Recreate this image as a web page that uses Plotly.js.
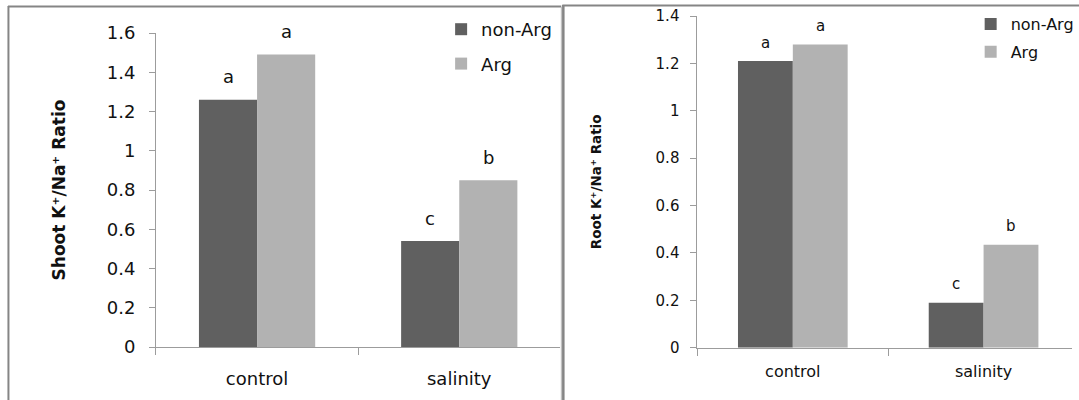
<!DOCTYPE html>
<html>
<head>
<meta charset="utf-8">
<script src="https://cdn.plot.ly/plotly-3.0.1.min.js"></script>
<style>
  html, body { margin: 0; padding: 0; background: #fff; overflow: hidden; }
  #chart { width: 1079px; height: 400px; }
</style>
</head>
<body>
<div id="chart"></div>
<script>
// ---- data ----
const categories = ['control', 'salinity'];
const seriesNames = ['non-Arg', 'Arg'];
const shootNonArg = [1.26, 0.54];
const shootArg = [1.49, 0.85];
const rootNonArg = [1.21, 0.19];
const rootArg = [1.28, 0.435];
const shootNonArgLetters = ['a', 'c'];
const shootArgLetters = ['a', 'b'];
const rootNonArgLetters = ['a', 'c'];
const rootArgLetters = ['a', 'b'];
const shootTickVals = [0, 0.2, 0.4, 0.6, 0.8, 1, 1.2, 1.4, 1.6];
const rootTickVals = [0, 0.2, 0.4, 0.6, 0.8, 1, 1.2, 1.4];
const shootTitle = 'Shoot K\u207A/Na\u207A Ratio';
const rootTitle = 'Root K\u207A/Na\u207A Ratio';

// ---- style ----
const W = 1079, H = 400;
const FONT = 'DejaVu Sans, sans-serif';
const DARK = '#606060', LIGHT = '#b2b2b2';
const AXIS = '#9c9c9c';
const BARGAP = 0.425;
const px = v => v / W;
const py = v => 1 - v / H;

function barTrace(name, y, color, xa, ya, legend, group) {
  return {
    type: 'bar', name: name, x: categories, y: y,
    xaxis: xa, yaxis: ya, legend: legend, legendgroup: group,
    marker: { color: color, line: { width: 0 } },
    hoverinfo: 'x+y+name'
  };
}

const data = [
  barTrace(seriesNames[0], shootNonArg, DARK, 'x', 'y', 'legend', 's1'),
  barTrace(seriesNames[1], shootArg, LIGHT, 'x', 'y', 'legend', 's2'),
  barTrace(seriesNames[0], rootNonArg, DARK, 'x2', 'y2', 'legend2', 'r1'),
  barTrace(seriesNames[1], rootArg, LIGHT, 'x2', 'y2', 'legend2', 'r2')
];

// significance letters, placed over each bar through the axes' own scales
function letterAnnots(series, xa, ya, size, shift) {
  const out = [];
  const half = (1 - BARGAP) / 2;
  series.forEach((s, j) => {
    s.values.forEach((v, i) => {
      out.push({
        xref: xa, yref: ya, x: i + (j - 0.5) * half, y: v,
        text: s.letters[i], showarrow: false,
        xanchor: 'center', yanchor: 'middle', yshift: shift,
        font: { family: FONT, size: size, color: '#111' }
      });
    });
  });
  return out;
}

const annotations = [].concat(
  letterAnnots([{ values: shootNonArg, letters: shootNonArgLetters }, { values: shootArg, letters: shootArgLetters }], 'x', 'y', 18, 23),
  letterAnnots([{ values: rootNonArg, letters: rootNonArgLetters }, { values: rootArg, letters: rootArgLetters }], 'x2', 'y2', 15, 18.5)
);

const xCommon = {
  type: 'category', showline: true, linecolor: AXIS, linewidth: 1,
  ticks: 'outside', tickson: 'boundaries', tickcolor: AXIS, ticklen: 7, tickwidth: 1,
  showgrid: false, zeroline: false, fixedrange: true
};
const yCommon = {
  showline: true, linecolor: AXIS, linewidth: 1,
  ticks: 'outside', tickcolor: AXIS, ticklen: 6, tickwidth: 1,
  showgrid: false, zeroline: false, fixedrange: true
};

const layout = {
  width: W, height: H,
  margin: { l: 0, r: 0, t: 0, b: 0 },
  paper_bgcolor: '#fff', plot_bgcolor: '#fff',
  barmode: 'group', bargap: BARGAP, bargroupgap: 0,
  font: { family: FONT, color: '#111' },
  xaxis: Object.assign({}, xCommon, {
    domain: [px(157), px(564)], range: [-0.5, 1.5], anchor: 'y',
    tickfont: { size: 18, color: '#111' }, ticklabelstandoff: 15
  }),
  yaxis: Object.assign({}, yCommon, {
    domain: [py(347), py(33)], range: [0, 1.6], anchor: 'x',
    tickvals: shootTickVals, tickfont: { size: 18, color: '#111' }, ticklabelstandoff: 10,
    title: { text: shootTitle, font: { size: 17, weight: 'bold', color: '#111' }, standoff: 36 }
  }),
  xaxis2: Object.assign({}, xCommon, {
    domain: [px(702), 1], range: [-0.5, -0.5 + 377 / 192], anchor: 'y2',
    tickfont: { size: 16, color: '#111' }, ticklabelstandoff: 9
  }),
  yaxis2: Object.assign({}, yCommon, {
    domain: [py(347.7), py(16)], range: [0, 1.4], anchor: 'x2',
    tickvals: rootTickVals, tickfont: { size: 15, color: '#111' }, ticklabelstandoff: 8,
    title: { text: rootTitle, font: { size: 13.5, weight: 'bold', color: '#111' }, standoff: 50 }
  }),
  legend: {
    x: px(444), y: py(11), xanchor: 'left', yanchor: 'top',
    font: { size: 18, color: '#111' }, bgcolor: 'rgba(0,0,0,0)', borderwidth: 0,
    traceorder: 'grouped', tracegroupgap: 8
  },
  legend2: {
    x: px(977), y: py(7), xanchor: 'left', yanchor: 'top',
    font: { size: 16, color: '#111' }, bgcolor: 'rgba(0,0,0,0)', borderwidth: 0,
    traceorder: 'grouped', tracegroupgap: 4
  },
  annotations: annotations,
  shapes: [
    // left panel frame
    { type: 'line', xref: 'paper', yref: 'paper', x0: px(8.5), x1: px(8.5), y0: py(6), y1: -0.05, line: { color: '#858585', width: 2 } },
    { type: 'line', xref: 'paper', yref: 'paper', x0: px(8), x1: px(565), y0: py(6.5), y1: py(6.5), line: { color: '#858585', width: 2 } },
    { type: 'line', xref: 'paper', yref: 'paper', x0: px(565), x1: px(565), y0: py(7), y1: -0.05, line: { color: '#b5b5b5', width: 1 } },
    // right panel frame
    { type: 'line', xref: 'paper', yref: 'paper', x0: px(567), x1: px(567), y0: py(5), y1: -0.05, line: { color: '#858585', width: 2.5 } },
    { type: 'line', xref: 'paper', yref: 'paper', x0: px(566), x1: 1.01, y0: py(5.5), y1: py(5.5), line: { color: '#858585', width: 2 } }
  ]
};

Plotly.newPlot('chart', data, layout, { staticPlot: true, displayModeBar: false });
</script>
</body>
</html>
